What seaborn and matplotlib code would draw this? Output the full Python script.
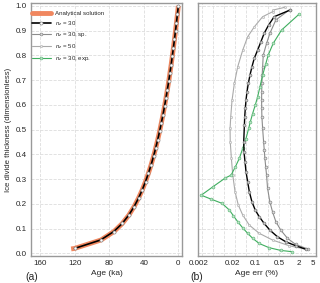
import numpy as np
import pandas as pd
import seaborn as sns
import matplotlib
matplotlib.use("Agg")
import matplotlib.pyplot as plt
from matplotlib.lines import Line2D
from matplotlib.ticker import FixedLocator, NullFormatter

# panel (a): age vs. normalised height
analytic_y = [0.018, 0.020, 0.054, 0.088, 0.121, 0.155, 0.189, 0.223, 0.257, 0.290, 0.324,
              0.358, 0.392, 0.426, 0.459, 0.493, 0.527, 0.561, 0.594, 0.628, 0.662,
              0.696, 0.730, 0.763, 0.797, 0.831, 0.865, 0.899, 0.932, 0.966, 1.000]
analytic_age = [124.0, 120.1, 89.6, 74.6, 64.8, 57.2, 51.2, 46.1, 41.7, 38.0, 34.6,
                31.5, 28.7, 26.2, 23.9, 21.7, 19.7, 17.7, 16.0, 14.3, 12.7,
                11.1, 9.7, 8.3, 7.0, 5.7, 4.5, 3.3, 2.2, 1.1, 0.0]
nz30_y = analytic_y[1:]
nz30_age = [120.0, 90.0, 74.8, 64.9, 57.3, 51.2, 46.1, 41.7, 38.0, 34.6,
            31.5, 28.7, 26.2, 23.9, 21.7, 19.7, 17.7, 16.0, 14.3, 12.7,
            11.1, 9.7, 8.3, 7.0, 5.7, 4.5, 3.3, 2.2, 1.1, 0.0]

# panel (b): age error (%)
err30_y = [0.983, 0.956, 0.922, 0.889, 0.855, 0.821, 0.788, 0.754, 0.720, 0.687,
           0.653, 0.619, 0.586, 0.552, 0.518, 0.451, 0.410, 0.370, 0.330, 0.289,
           0.249, 0.208, 0.175, 0.148, 0.121, 0.094, 0.067, 0.047, 0.031, 0.017]
err30 = [1.06, 0.355, 0.242, 0.179, 0.143, 0.114, 0.0906, 0.0774, 0.0675, 0.0603,
         0.055, 0.0514, 0.049, 0.047, 0.046, 0.0439, 0.0448, 0.048, 0.0514, 0.0576,
         0.0646, 0.0774, 0.097, 0.128, 0.179, 0.265, 0.447, 0.789, 1.56, 3.10]

err_sp_y = [0.985, 0.943, 0.889, 0.848, 0.801, 0.754, 0.720, 0.687, 0.653, 0.619,
            0.586, 0.552, 0.505, 0.451, 0.418, 0.384, 0.350, 0.316, 0.263, 0.208,
            0.168, 0.128, 0.094, 0.061, 0.036, 0.017]
err_sp = [1.04, 0.40, 0.265, 0.211, 0.168, 0.161, 0.156, 0.153, 0.151, 0.150,
          0.151, 0.153, 0.161, 0.172, 0.180, 0.188, 0.199, 0.211, 0.226, 0.265,
          0.318, 0.40, 0.561, 0.887, 1.56, 3.72]

err50_y = [0.994, 0.983, 0.976, 0.956, 0.915, 0.875, 0.821, 0.754, 0.687, 0.619,
           0.552, 0.505, 0.451, 0.384, 0.316, 0.249, 0.195, 0.155, 0.114, 0.081,
           0.054, 0.031, 0.017]
err50 = [0.738, 0.332, 0.318, 0.161, 0.0906, 0.0576, 0.041, 0.0291, 0.0231, 0.0197,
         0.018, 0.0172, 0.0174, 0.0188, 0.0207, 0.0242, 0.0303, 0.041, 0.0646, 0.128,
         0.318, 0.99, 3.10]

errexp_y = [0.966, 0.902, 0.848, 0.801, 0.767, 0.720, 0.673, 0.632, 0.599, 0.565,
            0.531, 0.505, 0.464, 0.424, 0.384, 0.350, 0.316, 0.305, 0.269, 0.235,
            0.219, 0.202, 0.175, 0.152, 0.128, 0.103, 0.081, 0.061, 0.040, 0.023,
            0.012, 0.007]
errexp = [1.96, 0.589, 0.332, 0.236, 0.201, 0.161, 0.134, 0.114, 0.097, 0.081,
          0.069, 0.0617, 0.0514, 0.041, 0.0325, 0.0248, 0.0184, 0.0125, 0.00527, 0.00237,
          0.0047, 0.00995, 0.0164, 0.0216, 0.0291, 0.041, 0.0577, 0.081, 0.127, 0.252,
          0.561, 1.19]

y_ticks = [0.0, 0.1, 0.2, 0.3, 0.4, 0.5, 0.6, 0.7, 0.8, 0.9, 1.0]
age_ticks = [160, 120, 80, 40, 0]
err_ticks = [0.002, 0.02, 0.1, 0.5, 2, 5]
err_ticklabels = ["0.002", "0.02", "0.1", "0.5", "2", "5"]

coral = "#f0875f"
green = "#3fae5f"

sns.set_theme(style="whitegrid")
plt.rcParams["font.family"] = ["Liberation Sans", "DejaVu Sans"]
plt.rcParams["mathtext.fontset"] = "custom"
plt.rcParams["mathtext.rm"] = "Liberation Sans"
plt.rcParams["mathtext.it"] = "Liberation Sans:italic"

fig = plt.figure(figsize=(3.2, 2.83), dpi=100)
ax1 = fig.add_axes([0.097, 0.095, 0.472, 0.894])
ax2 = fig.add_axes([0.620, 0.095, 0.366, 0.894])

mk = dict(marker="o", markersize=2.2, markerfacecolor="white",
          markeredgecolor="#888888", markeredgewidth=0.5)

# (a)
sns.lineplot(x=analytic_age, y=analytic_y, ax=ax1, color=coral, linewidth=3.5,
             estimator=None, sort=False, orient="y", solid_capstyle="butt")
sns.lineplot(x=nz30_age, y=nz30_y, ax=ax1, color="black", linewidth=1.2,
             estimator=None, sort=False, orient="y", **mk)

ax1.set_xlim(170.4, -4.3)
ax1.set_ylim(-0.011, 1.011)
ax1.set_xticks(age_ticks)
ax1.set_yticks(y_ticks)
ax1.set_yticklabels([f"{v:.1f}" for v in y_ticks])
ax1.set_xlabel("Age (ka)", fontsize=6, labelpad=2)
ax1.set_ylabel("Ice divide thickness (dimensionless)", fontsize=5.6, labelpad=3)

handles = [
    Line2D([], [], color=coral, linewidth=3.5),
    Line2D([], [], color="black", linewidth=1.2, **mk),
    Line2D([], [], color="#8c8c8c", linewidth=0.8, marker="o", markersize=2,
           markerfacecolor="#dddddd", markeredgecolor="#888888", markeredgewidth=0.5),
    Line2D([], [], color="#aaaaaa", linewidth=0.8, marker="o", markersize=1.6,
           markerfacecolor="#eeeeee", markeredgecolor="#aaaaaa", markeredgewidth=0.4),
    Line2D([], [], color=green, linewidth=0.8, marker="o", markersize=2,
           markerfacecolor="#bfe4c8", markeredgecolor="#66bb80", markeredgewidth=0.5),
]
labels = ["Analytical solution", r"$n_z$ = 30", r"$n_z$ = 30, sp.",
          r"$n_z$ = 50", r"$n_z$ = 30, exp."]
ax1.legend(handles, labels, loc="upper left", frameon=False, fontsize=4.4,
           handlelength=3.0, handletextpad=0.8, borderaxespad=0.0,
           borderpad=0.2, labelspacing=0.45, bbox_to_anchor=(0.0, 0.975))

# (b)
sns.lineplot(x=err50, y=err50_y, ax=ax2, color="#aaaaaa", linewidth=0.8,
             estimator=None, sort=False, orient="y", marker="o", markersize=1.6,
             markerfacecolor="#eeeeee", markeredgecolor="#aaaaaa", markeredgewidth=0.4)
sns.lineplot(x=err_sp, y=err_sp_y, ax=ax2, color="#8c8c8c", linewidth=0.8,
             estimator=None, sort=False, orient="y", marker="o", markersize=2,
             markerfacecolor="#dddddd", markeredgecolor="#888888", markeredgewidth=0.5)
sns.lineplot(x=errexp, y=errexp_y, ax=ax2, color=green, linewidth=0.8,
             estimator=None, sort=False, orient="y", marker="o", markersize=2,
             markerfacecolor="#bfe4c8", markeredgecolor="#66bb80", markeredgewidth=0.5)
sns.lineplot(x=err30, y=err30_y, ax=ax2, color="black", linewidth=1.0,
             estimator=None, sort=False, orient="y", marker="o", markersize=2,
             markerfacecolor="#cccccc", markeredgecolor="#777777", markeredgewidth=0.5)

ax2.set_xscale("log")
ax2.set_xlim(0.00195, 6.1)
ax2.set_ylim(-0.011, 1.011)
ax2.set_xticks(err_ticks)
ax2.set_xticklabels(err_ticklabels)
grid_pos = [10 ** (-2.605 + 0.327 * k) for k in range(10)]
ax2.xaxis.set_minor_locator(FixedLocator(grid_pos))
ax2.xaxis.set_minor_formatter(NullFormatter())
ax2.set_yticks(y_ticks)
ax2.set_yticklabels([])
ax2.set_xlabel("Age err (%)", fontsize=6, labelpad=2)
ax2.set_ylabel("")

for ax in (ax1, ax2):
    ax.tick_params(labelsize=5.8, length=0, pad=3)
    ax.tick_params(which="minor", length=0)
    ax.grid(True, which="major", color="#dddddd", linestyle="--", linewidth=0.6)
    for s in ax.spines.values():
        s.set_color("#999999")
        s.set_linewidth(1.0)
ax2.grid(False, which="major", axis="x")
ax2.grid(True, which="minor", axis="x", color="#dddddd", linestyle="--", linewidth=0.6)

fig.text(0.078, 0.012, "(a)", fontsize=7.5)
fig.text(0.594, 0.012, "(b)", fontsize=7.5)

fig.savefig("out.png", dpi=100)
